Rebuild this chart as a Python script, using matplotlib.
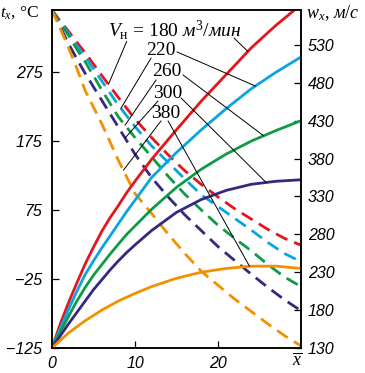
import matplotlib
matplotlib.use('Agg')
import matplotlib.pyplot as plt
import numpy as np

plt.rcParams['font.family'] = ['Liberation Sans', 'DejaVu Sans']
plt.rcParams['mathtext.fontset'] = 'custom'
plt.rcParams['mathtext.rm'] = 'Liberation Serif'
plt.rcParams['mathtext.it'] = 'Liberation Serif:italic'

# flow rates V_н, m3/min
flows = [180, 220, 260, 300, 380]
colors = ['#e3161d', '#0aa4e1', '#0f9a48', '#34297f', '#f29000']

# solid lines: w_x (right axis), m/s
x_w = [0, 1, 2, 3, 4, 5, 6, 7, 8, 9, 10, 12, 15, 18, 21, 24, 27, 30]
w_180 = [130, 162, 190, 216, 241, 263, 284, 302, 318, 335, 350, 379, 418, 456, 491, 526, 556, 583]
w_220 = [130, 156, 181, 205, 227, 245, 262, 278, 294, 310, 325, 355, 388, 418, 446, 472, 494, 514]
w_260 = [130, 151, 172, 192, 210, 226, 240, 254, 267, 280, 291, 313, 342, 366, 386, 403, 417, 430]
w_300 = [130, 146, 162, 177, 192, 207, 220, 233, 245, 256, 266, 285, 309, 326, 338, 346, 350, 352]
w_380 = [130, 140, 150, 158, 166, 173, 180, 186, 192, 197, 202, 211, 222, 230, 235, 238, 238, 235]

# dashed lines: t_x (left axis), deg C
x_t = [0, 1, 2, 3, 4, 6, 8, 10, 12, 14, 16, 18, 20, 22, 24, 26, 28, 30]
t_180 = [365, 349, 334, 318, 303, 270, 238, 207, 180, 155, 132, 112, 94, 77, 62, 47, 34, 24]
t_220 = [365, 347, 331, 313, 297, 262, 227, 196, 168, 144, 120, 97, 80, 63, 46, 28, 12, 0]
t_260 = [365, 346, 328, 308, 290, 249, 210, 180, 152, 124, 98, 75, 53, 34, 16, -4, -22, -36]
t_300 = [365, 340, 316, 294, 273, 234, 195, 156, 122, 94, 68, 45, 22, 2, -18, -37, -55, -71]
t_380 = [365, 338, 310, 280, 248, 200, 147, 99, 70, 40, 12, -14, -34, -54, -72, -90, -107, -122]

left_ticks = [-125, -25, 75, 175, 275]
right_ticks = [130, 180, 230, 280, 330, 380, 430, 480, 530]
x_ticks = [0, 10, 20]

w_series = [w_180, w_220, w_260, w_300, w_380]
t_series = [t_180, t_220, t_260, t_300, t_380]

# leader lines: (label x, label y) in axes fraction, curve x
left_leaders = [((0.30, 0.907), 6.8), ((0.398, 0.858), 8.3), ((0.418, 0.793), 8.8),
                ((0.426, 0.731), 8.8), ((0.438, 0.672), 8.6)]
right_leaders = [((0.731, 0.917), 23.6), ((0.502, 0.876), 24.5), ((0.526, 0.808), 25.5),
                 ((0.518, 0.740), 25.8), ((0.466, 0.672), 23.8)]

fig = plt.figure(figsize=(3.65, 3.73), dpi=100)
ax = fig.add_axes([52 / 365, 25 / 373, 249 / 365, 338 / 373])
ax2 = ax.twinx()

for t, c in zip(t_series, colors):
    ax.plot(x_t, t, color=c, lw=2.0, dashes=(4.6, 2.6), dash_capstyle='butt')
for w, c in zip(w_series, colors):
    ax2.plot(x_w, w, color=c, lw=2.0)

ax.set_xlim(0, 30)
ax.set_ylim(-125, 365)
ax2.set_ylim(130, 576)

tick_font = dict(fontsize=11.5, fontstyle='italic')
ax.set_xticks(x_ticks)
ax.set_xticklabels([str(v) for v in x_ticks], **tick_font)
ax.set_yticks(left_ticks)
ax.set_yticklabels([str(v).replace('-', '\u2212') for v in left_ticks], **tick_font)
ax2.set_yticks(right_ticks)
ax2.set_yticklabels([str(v) for v in right_ticks], **tick_font)
ax.tick_params(axis='y', direction='in', length=5, width=0.9, pad=7)
ax.tick_params(axis='x', direction='in', length=5, width=0.9, pad=6)
ax2.tick_params(axis='y', direction='in', length=5, width=0.9, pad=5)
for a in (ax, ax2):
    for s in a.spines.values():
        s.set_linewidth(1.1)

# axis titles
fig.text(0, 1 - 13 / 373, r'$t_x$, °C', fontsize=12.5, family='Liberation Serif',
         ha='left', va='center')
fig.text(306 / 365, 1 - 13 / 373, r'$w_x$, $м/с$', fontsize=13, family='Liberation Serif',
         ha='left', va='center')
fig.text(297 / 365, 1 - 361 / 373, r'$\overline{x}$', fontsize=13, ha='center', va='center')

# curve labels
label_pos = [(0.225, 0.941), (0.438, 0.879), (0.462, 0.817), (0.466, 0.754), (0.458, 0.695)]
texts = [r'$V_{\mathrm{н}}$ = 180 $м^3$/$мин$', '220', '260', '300', '380']
for (px, py), s in zip(label_pos, texts):
    ax.text(px, py, s, transform=ax.transAxes, fontsize=14, family='Liberation Serif',
            ha='left' if s.startswith('$') else 'center', va='center')

for ((sx, sy), cx), t in zip(left_leaders, t_series):
    cy = np.interp(cx, x_t, t)
    ax.annotate('', xy=(cx, cy), xycoords='data', xytext=(sx, sy), textcoords='axes fraction',
                arrowprops=dict(arrowstyle='-', color='black', lw=0.7, shrinkA=0, shrinkB=0))
for ((sx, sy), cx), w in zip(right_leaders, w_series):
    cy = np.interp(cx, x_w, w)
    ax2.annotate('', xy=(cx, cy), xycoords='data', xytext=(sx, sy), textcoords='axes fraction',
                 arrowprops=dict(arrowstyle='-', color='black', lw=0.7, shrinkA=0, shrinkB=0))

fig.savefig('out.png', dpi=100)
